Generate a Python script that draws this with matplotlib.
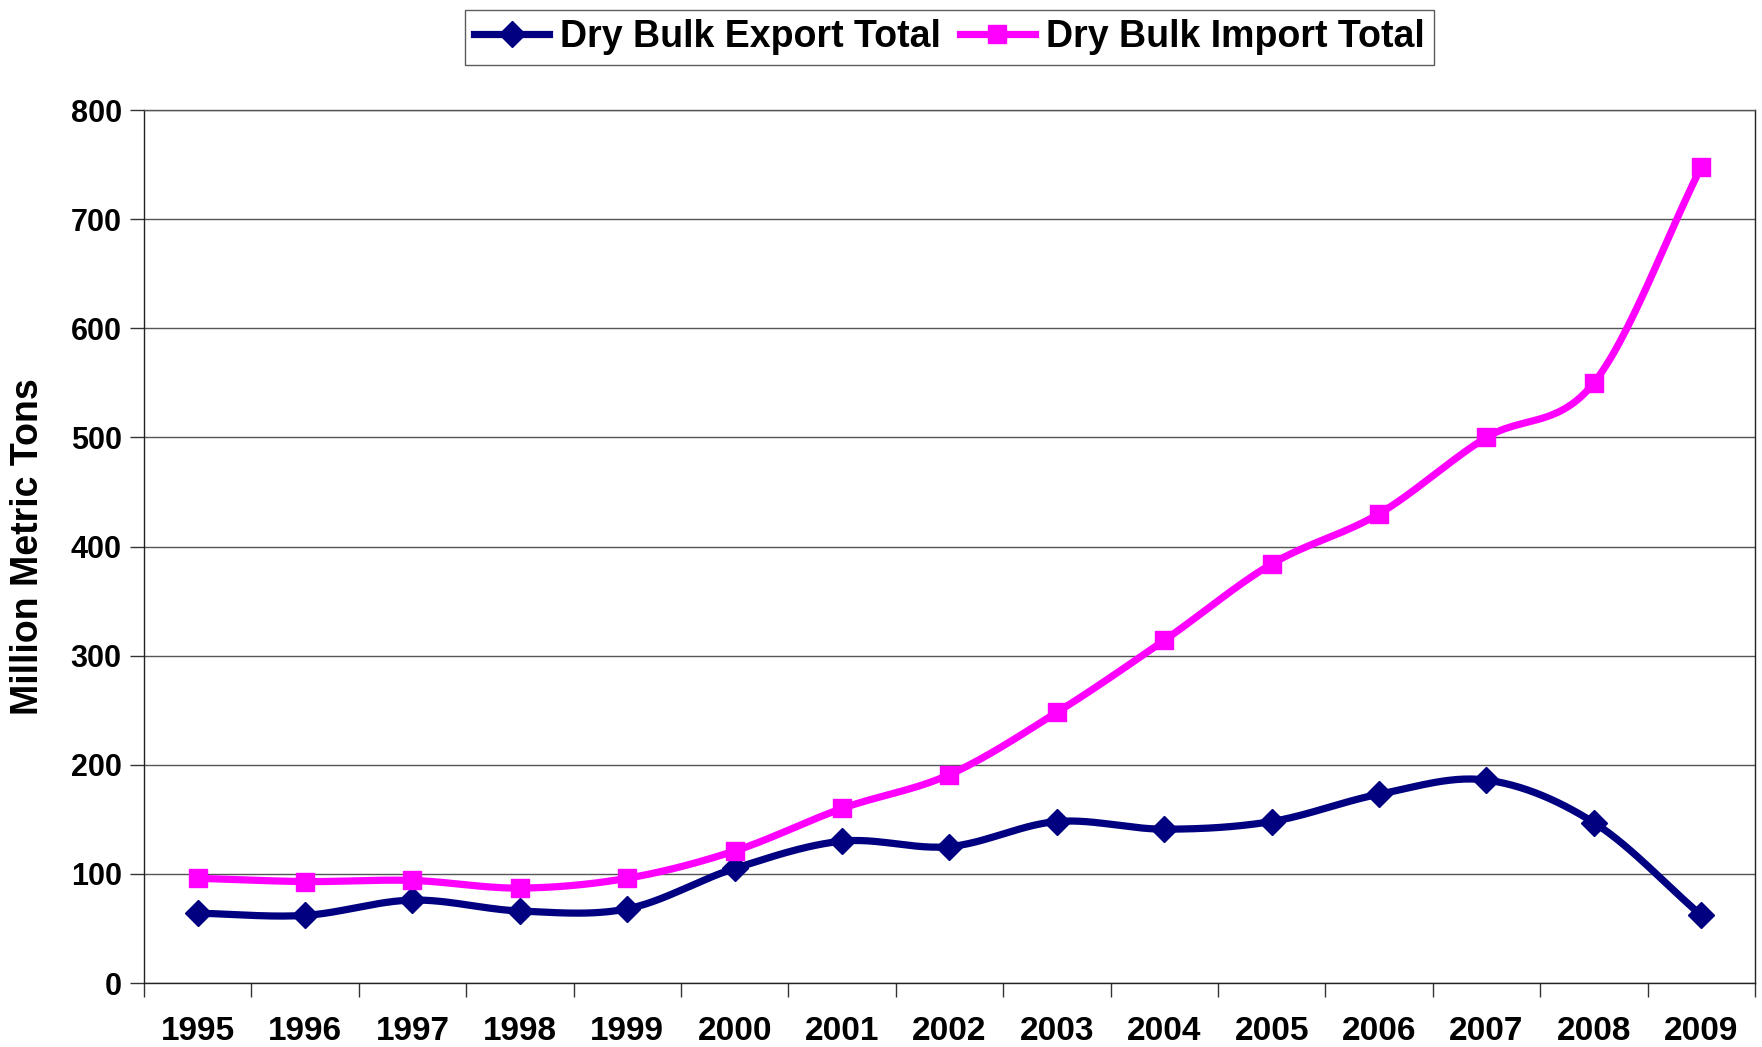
import numpy as np
import matplotlib
matplotlib.use('Agg')
import matplotlib.pyplot as plt
from matplotlib.lines import Line2D

# Data (million metric tons)
years = ['1995', '1996', '1997', '1998', '1999', '2000', '2001', '2002',
         '2003', '2004', '2005', '2006', '2007', '2008', '2009']
export_total = [64, 62, 76, 66, 68, 105, 130, 125, 148, 141, 148, 173, 186, 147, 62]
import_total = [96, 93, 94, 87, 96, 121, 160, 191, 248, 314, 384, 430, 500, 550, 748]

font = 'Liberation Sans'


# Excel-like smoothed line (Catmull-Rom through the points)
def smooth(x, y, n=30):
    x = np.asarray(x, float)
    y = np.asarray(y, float)
    px = np.concatenate([[2 * x[0] - x[1]], x, [2 * x[-1] - x[-2]]])
    py = np.concatenate([[2 * y[0] - y[1]], y, [2 * y[-1] - y[-2]]])
    xs, ys = [], []
    t = np.linspace(0, 1, n)
    for i in range(1, len(px) - 2):
        for p, arr in ((py[i - 1:i + 3], ys), (px[i - 1:i + 3], xs)):
            a, b, c, d = p
            arr.append(0.5 * (2 * b + (-a + c) * t + (2 * a - 5 * b + 4 * c - d) * t ** 2
                              + (-a + 3 * b - 3 * c + d) * t ** 3))
    return np.concatenate(xs), np.concatenate(ys)


fig = plt.figure(figsize=(17.62, 10.47), dpi=100)
ax = fig.add_axes([0.0817, 0.0611, 0.9143, 0.8338])

x = np.arange(len(years))
navy = '#000080'
magenta = '#FF00FF'

sx, sy = smooth(x, export_total)
ax.plot(sx, sy, color=navy, lw=5.2, solid_capstyle='round', zorder=3)
ax.plot(x, export_total, ls='none', marker='D', ms=13, color=navy, zorder=4)

sx, sy = smooth(x, import_total)
ax.plot(sx, sy, color=magenta, lw=5.2, solid_capstyle='round', zorder=3)
ax.plot(x, import_total, ls='none', marker='s', ms=12.5, color=magenta, zorder=4)

ax.set_xlim(-0.5, len(years) - 0.5)
ax.set_ylim(0, 800)
ax.set_yticks(range(0, 801, 100))
ax.set_xticks(x)
ax.set_xticklabels(years, family=font, fontweight='bold', fontsize=24)
ax.set_xticks(np.arange(-0.5, len(years)), minor=True)
ax.tick_params(axis='x', which='major', length=0, pad=24)
ax.tick_params(axis='x', which='minor', length=10, width=1, color='#333333')
ax.tick_params(axis='y', length=10, width=1, color='#333333', pad=6)
for lab in ax.get_yticklabels():
    lab.set_family(font)
    lab.set_fontweight('bold')
    lab.set_fontsize(22)

ax.yaxis.grid(True, color='#555555', lw=1)
ax.set_axisbelow(True)
for s in ax.spines.values():
    s.set_color('#222222')
    s.set_linewidth(1)
ax.spines['top'].set_color('#555555')

ax.set_ylabel('Million Metric Tons', family=font, fontweight='bold', fontsize=27, labelpad=18)

handles = [Line2D([], [], color=navy, lw=5.2, marker='D', ms=13),
           Line2D([], [], color=magenta, lw=5.2, marker='s', ms=12.5)]
leg = ax.legend(handles, ['Dry Bulk Export Total', 'Dry Bulk Import Total'],
                loc='lower center', bbox_to_anchor=(0.5, 1.052), ncol=2,
                prop={'family': font, 'weight': 'bold', 'size': 27},
                frameon=True, fancybox=False, edgecolor='#333333',
                handlelength=2.0, handletextpad=0.3, columnspacing=0.5,
                borderpad=0.25, borderaxespad=0)
leg.get_frame().set_linewidth(1)

fig.savefig('out.png', dpi=100)
